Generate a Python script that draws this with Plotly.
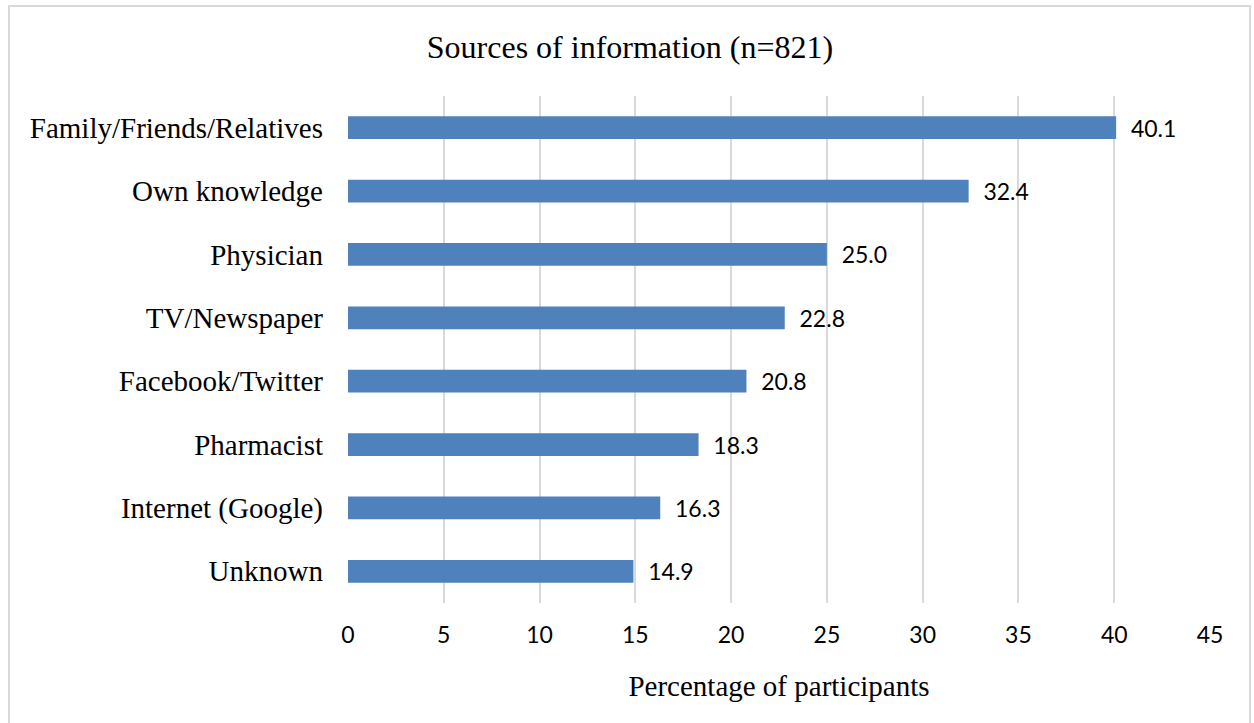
import plotly.graph_objects as go

categories = ["Family/Friends/Relatives", "Own knowledge", "Physician", "TV/Newspaper",
              "Facebook/Twitter", "Pharmacist", "Internet (Google)", "Unknown"]
values = [40.1, 32.4, 25.0, 22.8, 20.8, 18.3, 16.3, 14.9]
tick_vals = [0, 5, 10, 15, 20, 25, 30, 35, 40, 45]

serif = "Liberation Serif, Times New Roman, serif"
sans = "Lato, Open Sans, sans-serif"

fig = go.Figure(go.Bar(
    y=categories, x=values, orientation="h",
    marker=dict(color="#4f81bd", line=dict(width=0)),
    texttemplate="  %{x:.1f}", textposition="outside",
    textfont=dict(family=sans, size=23, color="#000000"),
    constraintext="none",
    cliponaxis=False,
))

L, R, T, B = 348, 44, 96, 120
W, H = 1254, 723
pw, ph = W - L - R, H - T - B
plot_bottom = H - B

fig.update_layout(
    width=W, height=H,
    margin=dict(l=L, r=R, t=T, b=B),
    paper_bgcolor="white", plot_bgcolor="white",
    bargap=0.64,
    showlegend=False,
    title=dict(text="Sources of information (n=821)", x=630 / W, xanchor="center",
               y=1 - 47 / H, yanchor="middle",
               font=dict(family=serif, size=32, color="#000000")),
    xaxis=dict(range=[0, 45], tickvals=tick_vals, showgrid=True, gridcolor="#d9d9d9", gridwidth=2,
               zeroline=False, showline=False,
               tickfont=dict(family=sans, size=23, color="#000000"),
               ticklabelstandoff=16,
               title=dict(text="Percentage of participants", font=dict(family=serif, size=29, color="#000000"),
                          standoff=28)),
    yaxis=dict(autorange="reversed", showgrid=False, showline=False, zeroline=False,
               tickfont=dict(family=serif, size=29, color="#000000"), ticklabelstandoff=24),
    shapes=[dict(type="rect", xref="paper", yref="paper",
                 x0=(9 - L) / pw, x1=(1250 - L) / pw,
                 y0=(plot_bottom - 730) / ph, y1=(plot_bottom - 6) / ph,
                 line=dict(color="#d9d9d9", width=2), fillcolor="rgba(0,0,0,0)", layer="below")],
)
fig.write_html("out.html")
